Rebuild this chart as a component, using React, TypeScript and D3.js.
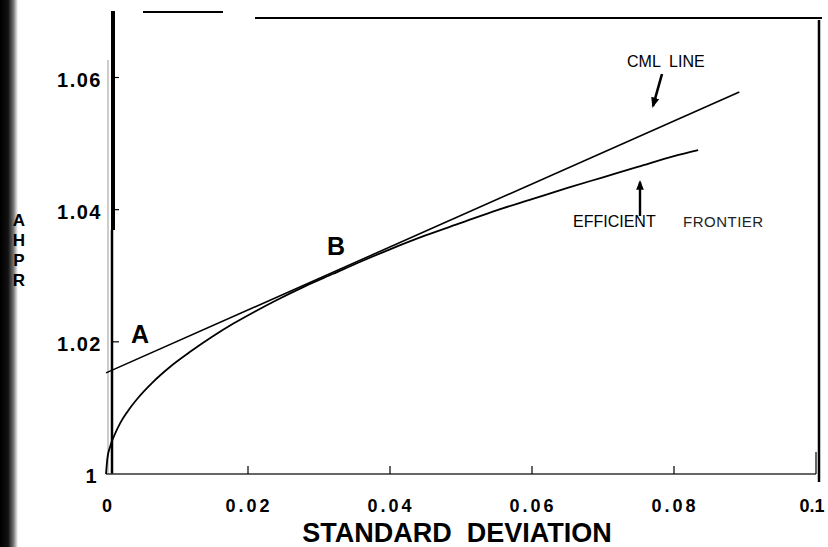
import React from "react";
import * as d3 from "d3";

const frontierSigma = [0, 0.0002, 0.0006, 0.0012, 0.002, 0.003, 0.0045, 0.0065, 0.009, 0.012, 0.015, 0.018, 0.021, 0.024, 0.028, 0.032, 0.036, 0.04, 0.045, 0.05, 0.055, 0.06, 0.065, 0.07, 0.075, 0.08, 0.0834];
const frontierReturn = [1.0, 1.0024, 1.0042, 1.0059, 1.0077, 1.0094, 1.0115, 1.0138, 1.0162, 1.0186, 1.0208, 1.0228, 1.0246, 1.0263, 1.0284, 1.0303, 1.0322, 1.034, 1.0361, 1.038, 1.0399, 1.0416, 1.0433, 1.0449, 1.0465, 1.0481, 1.049];
const cmlSigma = [0, 0.0892];
const cmlReturn = [1.0153, 1.0578];
const xTicks = [0, 0.02, 0.04, 0.06, 0.08, 0.1];
const xTickLabels = ["0", "0.02", "0.04", "0.06", "0.08", "0.1"];
const yTicks = [1, 1.02, 1.04, 1.06];
const yTickLabels = ["1", "1.02", "1.04", "1.06"];
const yTitleLetters = ["A", "H", "P", "R"];

const W = 828;
const H = 547;
const FONT = "'Liberation Sans', Arial, Helvetica, sans-serif";

export default function App() {
  const x = d3.scaleLinear().domain([0, 0.1]).range([106, 816]);
  const y = d3.scaleLinear().domain([1, 1.06]).range([474, 77.5]);

  const line = d3
    .line<[number, number]>()
    .x((d) => x(d[0]))
    .y((d) => y(d[1]))
    .curve(d3.curveMonotoneX);

  const frontier = frontierSigma.map((s, i) => [s, frontierReturn[i]] as [number, number]);
  const cml = cmlSigma.map((s, i) => [s, cmlReturn[i]] as [number, number]);

  return (
    <svg
      width={W}
      height={H}
      style={{ position: "absolute", left: 0, top: 0, background: "#fff" }}
    >
      <defs>
        <linearGradient id="scan" x1="0" x2="1" y1="0" y2="0">
          <stop offset="0" stopColor="#000" />
          <stop offset="0.45" stopColor="#111" />
          <stop offset="0.75" stopColor="#777" />
          <stop offset="1" stopColor="#fff" />
        </linearGradient>
        <marker id="ah" viewBox="0 0 10 10" refX="8" refY="5" markerWidth="4" markerHeight="6" orient="auto" markerUnits="strokeWidth">
          <path d="M0,1 L10,5 L0,9 Z" fill="#000" />
        </marker>
      </defs>
      <rect x={0} y={0} width={W} height={H} fill="#fff" />
      {/* scanned left edge */}
      <rect x={0} y={0} width={18} height={H} fill="url(#scan)" />

      {/* frame pieces */}
      <line x1={143} x2={223} y1={12} y2={12} stroke="#000" strokeWidth={2} />
      <line x1={255} x2={822} y1={18} y2={18} stroke="#000" strokeWidth={2} />
      <line x1={819} x2={819} y1={20} y2={482} stroke="#000" strokeWidth={2.5} />

      {/* y axis */}
      <line x1={108} x2={108} y1={60} y2={474} stroke="#999" strokeWidth={1} />
      <line x1={113} x2={113} y1={11} y2={230} stroke="#000" strokeWidth={4} />
      <line x1={112} x2={112} y1={230} y2={474} stroke="#000" strokeWidth={2.5} />
      {yTicks.map((t, i) => (
        <g key={"yt" + i}>
          {i > 0 && <line x1={113} x2={119} y1={y(t)} y2={y(t)} stroke="#000" strokeWidth={1.2} />}
          <text
            x={i === 0 ? 98 : 102}
            y={y(t) + 9}
            textAnchor="end"
            fontFamily={FONT}
            fontWeight="bold"
            fontSize={20}
            letterSpacing={1.5}
            fill="#000"
          >
            {yTickLabels[i]}
          </text>
        </g>
      ))}
      {yTitleLetters.map((l, i) => (
        <text key={"yl" + i} x={19} y={226 + i * 20} textAnchor="middle" fontFamily={FONT} fontWeight="bold" fontSize={17} fill="#000">
          {l}
        </text>
      ))}

      {/* x axis */}
      <line x1={x(0)} x2={x(0.1)} y1={y(1)} y2={y(1)} stroke="#333" strokeWidth={1.3} />
      {xTicks.map((t, i) => (
        <g key={"xt" + i}>
          {i > 0 && (
            <line x1={x(t)} x2={x(t)} y1={y(1)} y2={y(1) - (i === xTicks.length - 1 ? 22 : 8)} stroke="#000" strokeWidth={1.2} />
          )}
          <text
            x={x(t) + (i === xTicks.length - 1 ? -4 : 1)}
            y={512}
            textAnchor="middle"
            fontFamily={FONT}
            fontWeight="bold"
            fontSize={18}
            letterSpacing={i === 0 || i === xTicks.length - 1 ? 0 : 3}
            fill="#000"
          >
            {xTickLabels[i]}
          </text>
        </g>
      ))}
      <text x={457} y={542} textAnchor="middle" fontFamily={FONT} fontWeight="bold" fontSize={27} fill="#000" style={{ whiteSpace: "pre" }}>
        {"STANDARD  DEVIATION"}
      </text>

      {/* curves */}
      <path d={line(cml) || ""} fill="none" stroke="#000" strokeWidth={1.6} />
      <path d={line(frontier) || ""} fill="none" stroke="#000" strokeWidth={1.8} />

      {/* annotations */}
      <text x={140} y={343} textAnchor="middle" fontFamily={FONT} fontWeight="bold" fontSize={25} fill="#000">A</text>
      <text x={336} y={255} textAnchor="middle" fontFamily={FONT} fontWeight="bold" fontSize={25} fill="#000">B</text>
      <text x={627} y={67} fontFamily={FONT} fontSize={16} fill="#000" style={{ whiteSpace: "pre" }}>{"CML  LINE"}</text>
      <line x1={662} y1={74} x2={653} y2={106} stroke="#000" strokeWidth={2.6} markerEnd="url(#ah)" />
      <text x={573} y={227} fontFamily={FONT} fontSize={16} fill="#000">EFFICIENT</text>
      <text x={683} y={227} fontFamily={FONT} fontSize={15} fill="#222" letterSpacing={0.5}>FRONTIER</text>
      <line x1={640} y1={216} x2={640} y2={182} stroke="#000" strokeWidth={2.4} markerEnd="url(#ah)" />
    </svg>
  );
}
